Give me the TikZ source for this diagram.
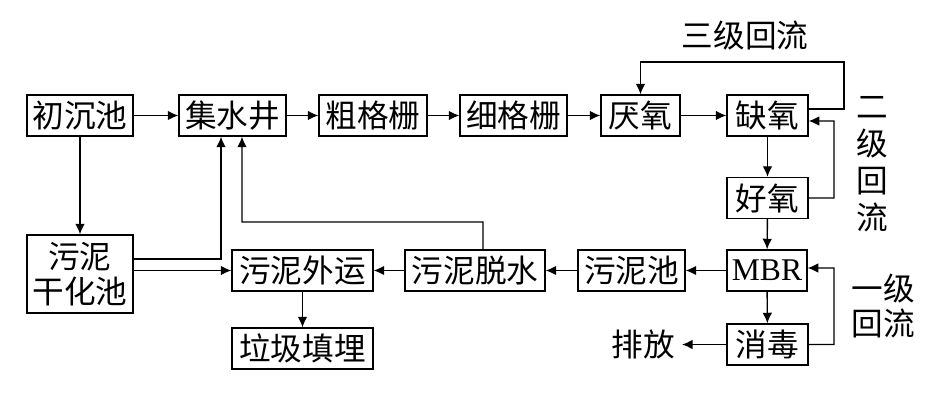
\documentclass[tikz,border=0pt]{standalone}
\usepackage{fontspec}
\setmainfont{Liberation Serif}
\newfontfamily\cjk{Noto Sans CJK SC}
\usetikzlibrary{arrows.meta, calc}

\begin{document}
\begin{tikzpicture}
      [
        x=0.02cm, y=-0.02cm,
        box/.style={draw, line width=0.8pt, inner sep=0pt, minimum height=0.82cm,
          font=\cjk\fontsize{18}{20}\selectfont},
        word/.style={inner sep=0pt, font=\cjk\fontsize{18}{20}\selectfont},
        arr/.style={line width=0.8pt, ->, >={Latex[length=6pt,width=5.5pt]}},
        line/.style={line width=0.8pt}
      ]
      \useasboundingbox (0,0) rectangle (945,402);
      % boxes, top row
      \node [box, minimum width=2.12cm] (chu) at (80,115.5)    {初沉池};
      \node [box, minimum width=2.14cm] (jsj) at (232.5,115.5) {集水井};
      \node [box, minimum width=2.16cm] (cgs) at (373,115.5)   {粗格栅};
      \node [box, minimum width=2.14cm] (xgs) at (513.5,115.5) {细格栅};
      \node [box, minimum width=1.58cm] (yy)  at (640.5,115.5) {厌氧};
      \node [box, minimum width=1.62cm] (qy)  at (767.5,115.5) {缺氧};
      \node [box, minimum width=1.62cm] (hy)  at (767.5,198)   {好氧};
      % boxes, bottom rows
      \node [box, minimum width=2.12cm, minimum height=1.56cm, align=center]
        (gh) at (80,274) {污泥\\干化池};
      \node [box, minimum width=2.82cm] (wy)  at (302.5,270.5) {污泥外运};
      \node [box, minimum width=2.82cm] (ljt) at (302.5,348.5) {垃圾填埋};
      \node [box, minimum width=2.80cm] (ts)  at (475,270.5)   {污泥脱水};
      \node [box, minimum width=2.14cm] (wnc) at (631.5,270.5) {污泥池};
      \node [box, minimum width=1.60cm, font=\fontsize{18}{20}\selectfont]
        (mbr) at (767,270.5) {MBR};
      \node [box, minimum width=1.62cm] (xd)  at (767.5,344.5) {消毒};
      % labels
      \node [word] (pf) at (643,344.5) {排放};
      \node [word] (l3) at (745,35)  {三级回流};
      \node [word, align=center, text width=0.7cm] (l2) at (872,164)
        {二\\[1pt]级\\[1pt]回\\[1pt]流};
      \node [word, align=center] (l1) at (883,306) {一级\\回流};
      % bends
      \coordinate (c3) at (844,62);
      \coordinate (c2) at (834,121);
      \coordinate (c1) at (834,268);
      \coordinate (c4) at (242,222);
      % arrows, main line
      \draw [arr] (chu) -- (jsj);
      \draw [arr] (jsj) -- (cgs);
      \draw [arr] (cgs) -- (xgs);
      \draw [arr] (xgs) -- (yy);
      \draw [arr] (yy) -- (qy);
      \draw [arr] (qy) -- (hy);
      \draw [arr] (hy) -- (mbr);
      \draw [arr] (mbr) -- (xd);
      \draw [arr] (xd) -- ([xshift=4pt]pf.east);
      \draw [arr] (mbr) -- (wnc);
      \draw [arr] (wnc) -- (ts);
      \draw [arr] (ts) -- (wy);
      \draw [arr] (wy) -- (ljt);
      \draw [arr] (chu) -- (gh);
      % arrows, returns
      \draw [arr] ([yshift=0.13cm]qy.east) -| (c3) -| (yy.north);
      \draw [arr] (hy.east) -| (c2) -- ([yshift=-0.11cm]qy.east);
      \draw [arr] (xd.east) -| (c1) -- ([yshift=0.05cm]mbr.east);
      \draw [arr] ([yshift=0.3cm]gh.east) -| ([xshift=-0.23cm]jsj.south);
      \draw [arr] (gh.east |- wy.west) -- (wy.west);
      \draw [arr] ([xshift=0.16cm]ts.north) |- (c4) -- ([xshift=0.19cm]jsj.south);
    \end{tikzpicture}
\end{document}
